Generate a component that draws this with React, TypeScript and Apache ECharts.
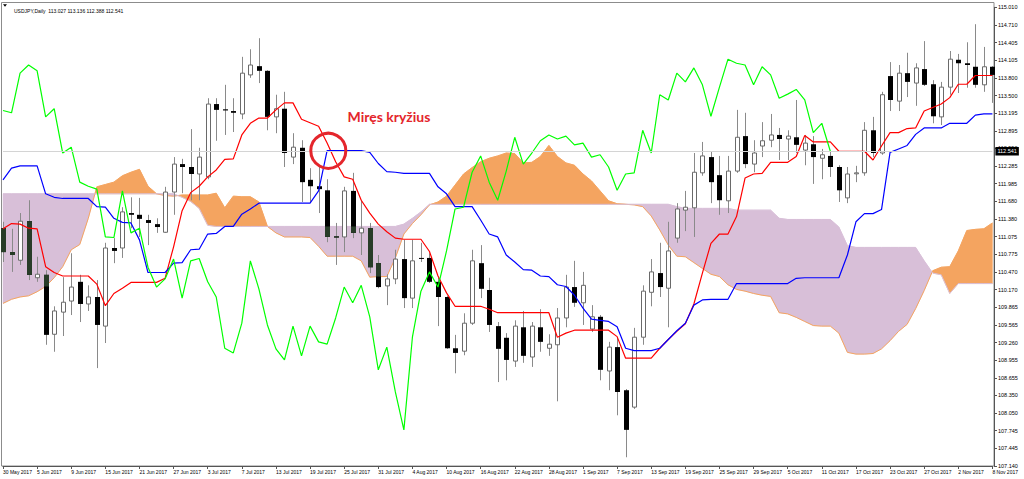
import React, { useEffect, useRef } from 'react';
import * as echarts from 'echarts';

const titleText = 'USDJPY,Daily  113.027 113.136 112.388 112.541';
const annotationText = 'Miręs kryžius';
const bidPrice = 112.541;

const dates = [
  '30 May 2017', '31 May 2017',
  '1 Jun 2017', '2 Jun 2017', '5 Jun 2017', '6 Jun 2017', '7 Jun 2017', '8 Jun 2017', '9 Jun 2017', '12 Jun 2017', '13 Jun 2017', '14 Jun 2017', '15 Jun 2017', '16 Jun 2017', '19 Jun 2017', '20 Jun 2017', '21 Jun 2017', '22 Jun 2017', '23 Jun 2017', '26 Jun 2017', '27 Jun 2017', '28 Jun 2017', '29 Jun 2017', '30 Jun 2017',
  '3 Jul 2017', '4 Jul 2017', '5 Jul 2017', '6 Jul 2017', '7 Jul 2017', '10 Jul 2017', '11 Jul 2017', '12 Jul 2017', '13 Jul 2017', '14 Jul 2017', '17 Jul 2017', '18 Jul 2017', '19 Jul 2017', '20 Jul 2017', '21 Jul 2017', '24 Jul 2017', '25 Jul 2017', '26 Jul 2017', '27 Jul 2017', '28 Jul 2017', '31 Jul 2017',
  '1 Aug 2017', '2 Aug 2017', '3 Aug 2017', '4 Aug 2017', '7 Aug 2017', '8 Aug 2017', '9 Aug 2017', '10 Aug 2017', '11 Aug 2017', '14 Aug 2017', '15 Aug 2017', '16 Aug 2017', '17 Aug 2017', '18 Aug 2017', '21 Aug 2017', '22 Aug 2017', '23 Aug 2017', '24 Aug 2017', '25 Aug 2017', '28 Aug 2017', '29 Aug 2017', '30 Aug 2017', '31 Aug 2017',
  '1 Sep 2017', '4 Sep 2017', '5 Sep 2017', '6 Sep 2017', '7 Sep 2017', '8 Sep 2017', '11 Sep 2017', '12 Sep 2017', '13 Sep 2017', '14 Sep 2017', '15 Sep 2017', '18 Sep 2017', '19 Sep 2017', '20 Sep 2017', '21 Sep 2017', '22 Sep 2017', '25 Sep 2017', '26 Sep 2017', '27 Sep 2017', '28 Sep 2017', '29 Sep 2017',
  '2 Oct 2017', '3 Oct 2017', '4 Oct 2017', '5 Oct 2017', '6 Oct 2017', '9 Oct 2017', '10 Oct 2017', '11 Oct 2017', '12 Oct 2017', '13 Oct 2017', '16 Oct 2017', '17 Oct 2017', '18 Oct 2017', '19 Oct 2017', '20 Oct 2017', '23 Oct 2017', '24 Oct 2017', '25 Oct 2017', '26 Oct 2017', '27 Oct 2017', '30 Oct 2017', '31 Oct 2017',
  '1 Nov 2017', '2 Nov 2017', '3 Nov 2017', '6 Nov 2017', '7 Nov 2017', '8 Nov 2017',
];

const open = [
  111.22, 110.81, 110.67, 111.34, 110.37, 110.42, 109.40, 109.78, 109.97, 110.30,
  109.92, 110.04, 109.54, 110.88, 110.88, 111.48, 111.45, 111.36, 111.29, 111.15,
  111.84, 112.32, 112.27, 112.15, 112.10, 113.35, 113.26, 113.23, 113.18, 113.85,
  114.00, 113.92, 113.13, 113.27, 112.44, 112.60, 112.05, 111.94, 111.87, 111.08,
  111.07, 111.86, 111.14, 111.22, 110.62, 110.23, 110.35, 110.69, 110.02, 110.71,
  110.71, 110.30, 110.04, 109.16, 109.11, 109.59, 110.62, 110.16, 109.54, 109.34,
  108.94, 109.52, 109.01, 109.52, 109.16, 109.22, 109.68, 110.21, 109.94, 109.49,
  109.70, 108.77, 109.18, 108.44, 108.15, 109.35, 110.12, 110.45, 110.19, 111.05,
  111.53, 111.57, 112.17, 112.44, 112.13, 111.69, 112.20, 112.80, 112.32, 112.63,
  112.73, 112.82, 112.75, 112.78, 112.56, 112.66, 112.42, 112.46, 112.27, 111.74,
  112.16, 112.17, 112.90, 112.51, 113.83, 113.40, 113.88, 113.71, 113.95, 113.69,
  113.13, 113.64, 114.11, 114.05, 113.99, 113.68, 113.99,
];

const close = [
  110.81, 110.76, 111.34, 110.42, 110.43, 109.39, 109.80, 109.95, 110.21, 109.92,
  110.04, 109.56, 110.88, 110.83, 111.50, 111.45, 111.38, 111.31, 111.24, 111.84,
  112.32, 112.27, 112.15, 112.44, 113.35, 113.25, 113.24, 113.20, 113.88, 114.02,
  113.92, 113.13, 113.27, 112.51, 112.61, 112.01, 111.94, 111.89, 111.07, 111.06,
  111.86, 111.14, 111.22, 110.55, 110.21, 110.35, 110.69, 110.02, 110.66, 110.70,
  110.30, 110.04, 109.16, 109.08, 109.59, 110.66, 110.18, 109.56, 109.15, 108.96,
  109.54, 109.03, 109.54, 109.27, 109.23, 109.68, 110.21, 109.94, 110.24, 109.70,
  108.79, 109.18, 108.41, 107.76, 109.35, 110.14, 110.47, 110.21, 110.83, 111.55,
  111.58, 112.18, 112.46, 112.01, 111.70, 112.20, 112.78, 112.32, 112.51, 112.72,
  112.82, 112.75, 112.80, 112.65, 112.68, 112.44, 112.48, 112.27, 111.87, 112.15,
  112.17, 112.90, 112.51, 113.51, 113.42, 113.88, 113.73, 113.97, 113.68, 113.14,
  113.64, 114.12, 114.05, 114.02, 113.68, 113.99, 113.85,
];

const low = [
  110.64, 110.47, 110.59, 110.33, 110.30, 109.22, 109.10, 109.37, 109.73, 109.61,
  109.80, 108.82, 109.25, 110.62, 110.71, 111.22, 111.07, 110.93, 111.14, 111.14,
  111.45, 111.82, 111.70, 111.70, 112.06, 112.72, 112.82, 112.87, 113.09, 113.80,
  113.71, 112.90, 112.85, 112.27, 112.32, 111.67, 111.67, 111.48, 110.98, 110.59,
  110.81, 111.05, 110.76, 110.45, 110.19, 109.90, 110.26, 109.85, 109.85, 110.64,
  110.28, 109.54, 109.15, 108.73, 109.04, 109.56, 110.02, 109.44, 108.58, 108.61,
  108.84, 108.91, 108.84, 109.10, 109.03, 108.25, 109.52, 109.87, 109.56, 109.44,
  108.61, 108.44, 108.01, 107.29, 108.12, 109.22, 109.88, 110.04, 109.52, 110.97,
  111.17, 111.07, 112.12, 111.65, 111.45, 111.48, 112.17, 112.25, 112.18, 112.44,
  112.61, 112.39, 112.39, 112.51, 112.30, 111.98, 112.06, 112.10, 111.67, 111.65,
  112.01, 112.12, 112.44, 112.48, 113.23, 113.23, 113.47, 113.32, 113.66, 113.02,
  112.99, 113.51, 113.54, 113.63, 113.63, 113.56, 113.37,
];

const high = [
  111.33, 111.21, 111.48, 111.70, 110.73, 110.50, 109.88, 110.38, 110.79, 110.42,
  110.24, 110.33, 110.97, 111.05, 111.58, 111.75, 111.74, 111.45, 111.39, 111.93,
  112.44, 112.41, 112.92, 112.60, 113.45, 113.45, 113.68, 113.45, 114.16, 114.29,
  114.48, 113.93, 113.51, 113.56, 112.85, 112.73, 112.25, 112.27, 112.06, 111.31,
  111.93, 112.17, 111.70, 111.31, 110.76, 110.43, 110.85, 111.02, 111.02, 110.97,
  110.79, 110.37, 110.06, 109.39, 109.76, 110.85, 110.93, 110.37, 109.61, 109.42,
  109.64, 109.80, 109.61, 109.83, 109.40, 109.85, 110.42, 110.66, 110.47, 109.90,
  109.73, 109.27, 109.35, 108.46, 109.51, 110.24, 110.69, 110.97, 111.33, 111.65,
  111.86, 112.51, 112.70, 112.53, 112.46, 112.46, 113.25, 113.20, 112.73, 113.04,
  113.18, 112.94, 112.90, 113.42, 112.82, 112.80, 112.58, 112.54, 112.30, 112.27,
  112.29, 113.04, 113.13, 113.56, 114.07, 114.02, 114.23, 114.05, 114.43, 113.76,
  113.73, 114.26, 114.21, 114.41, 114.72, 114.33, 114.00,
];

const tenkan = [
  111.21, 111.30, 111.29, 111.22, 111.21, 110.56, 110.46, 110.40, 110.40, 110.40,
  110.40, 110.26, 109.89, 110.10, 110.19, 110.29, 110.29, 110.29, 110.29, 110.36,
  110.90, 111.52, 111.83, 111.94, 112.10, 112.22, 112.40, 112.41, 112.82, 113.02,
  113.11, 113.11, 113.25, 113.37, 113.37, 113.09, 113.03, 112.97, 112.68, 112.36,
  112.10, 112.06, 111.70, 111.48, 111.29, 111.16, 111.05, 111.03, 111.03, 111.03,
  110.82, 110.40, 110.11, 109.88, 109.88, 109.88, 109.88, 109.83, 109.77, 109.77,
  109.77, 109.77, 109.77, 109.77, 109.77, 109.35, 109.42, 109.47, 109.47, 109.47,
  109.47, 109.47, 109.36, 108.99, 108.99, 108.99, 108.99, 109.16, 109.31, 109.45,
  109.58, 109.92, 110.45, 110.96, 111.12, 111.12, 111.42, 112.08, 112.15, 112.16,
  112.35, 112.35, 112.35, 112.45, 112.81, 112.70, 112.70, 112.70, 112.54, 112.54,
  112.54, 112.54, 112.39, 112.63, 112.86, 112.86, 112.93, 112.94, 113.23, 113.29,
  113.35, 113.46, 113.69, 113.69, 113.84, 113.84, 113.84,
];

const kijun = [
  112.05, 112.25, 112.29, 112.29, 112.29, 111.81, 111.75, 111.73, 111.73, 111.73,
  111.73, 111.59, 111.58, 111.39, 111.32, 111.31, 111.02, 110.46, 110.46, 110.46,
  110.62, 110.63, 110.85, 110.86, 111.12, 111.13, 111.25, 111.25, 111.46, 111.55,
  111.65, 111.65, 111.65, 111.65, 111.65, 111.65, 111.65, 111.86, 112.55, 112.55,
  112.55, 112.55, 112.55, 112.52, 112.33, 112.19, 112.18, 112.16, 112.16, 112.16,
  112.16, 111.93, 111.81, 111.59, 111.59, 111.59, 111.36, 111.12, 111.07, 110.76,
  110.64, 110.51, 110.50, 110.40, 110.39, 110.25, 110.22, 110.07, 109.85, 109.66,
  109.64, 109.62, 109.53, 109.16, 109.12, 109.12, 109.12, 109.16, 109.31, 109.46,
  109.59, 109.90, 109.99, 110.00, 110.00, 110.00, 110.27, 110.27, 110.27, 110.27,
  110.27, 110.27, 110.27, 110.36, 110.37, 110.37, 110.37, 110.37, 110.37, 110.76,
  111.33, 111.47, 111.47, 111.54, 112.52, 112.58, 112.64, 112.83, 112.94, 112.94,
  112.94, 113.02, 113.02, 113.02, 113.16, 113.18, 113.18,
];

const chikou = [
  113.24, 113.20, 113.88, 114.02, 113.92, 113.13, 113.27, 112.51, 112.61, 112.01,
  111.94, 111.89, 111.07, 111.06, 111.86, 111.14, 111.22, 110.55, 110.21, 110.35,
  110.69, 110.02, 110.66, 110.70, 110.30, 110.04, 109.16, 109.08, 109.59, 110.66,
  110.18, 109.56, 109.15, 108.96, 109.54, 109.03, 109.54, 109.27, 109.23, 109.68,
  110.21, 109.94, 110.24, 109.70, 108.79, 109.18, 108.41, 107.76, 109.35, 110.14,
  110.47, 110.21, 110.83, 111.55, 111.58, 112.18, 112.46, 112.01, 111.70, 112.20,
  112.78, 112.32, 112.51, 112.72, 112.82, 112.75, 112.80, 112.65, 112.68, 112.44,
  112.48, 112.27, 111.87, 112.15, 112.17, 112.90, 112.51, 113.51, 113.42, 113.88,
  113.73, 113.97, 113.68, 113.14, 113.64, 114.12, 114.05, 114.02, 113.68, 113.99,
  113.85, 113.45, 113.52, 113.60, 113.42, 112.86, 113.02, 112.541,
];

const senkouA = [
  109.93, 110.00, 110.04, 110.06, 110.13, 110.22, 110.37, 110.56, 110.85, 110.94,
  111.39, 111.93, 111.97, 112.01, 112.12, 112.18, 112.23, 111.94, 111.81, 111.78,
  111.77, 111.79, 111.79, 111.79, 111.79, 111.82, 111.57, 111.77, 111.76, 111.76,
  111.67, 111.25, 111.14, 111.07, 111.07, 111.07, 111.06, 110.91, 110.74, 110.74,
  110.74, 110.74, 110.66, 110.38, 110.39, 110.39, 110.71, 111.12, 111.30, 111.45,
  111.62, 111.67, 111.77, 111.96, 112.15, 112.26, 112.36, 112.42, 112.46, 112.51,
  112.50, 112.34, 112.35, 112.45, 112.64, 112.45, 112.34, 112.30, 112.15, 112.03,
  111.86, 111.69, 111.64, 111.63, 111.62, 111.59, 111.43, 111.19, 110.93, 110.74,
  110.73, 110.63, 110.53, 110.43, 110.39, 110.25, 110.17, 110.14, 110.10, 110.07,
  110.05, 109.77, 109.75, 109.69, 109.62, 109.55, 109.54, 109.54, 109.42, 109.09,
  109.06, 109.06, 109.07, 109.15, 109.29, 109.45, 109.57, 109.84, 110.15, 110.49,
  110.55, 110.56, 110.83, 111.18, 111.20, 111.21, 111.31,
];

const senkouB = [
  111.81, 111.81, 111.81, 111.81, 111.81, 111.81, 111.81, 111.81, 111.81, 111.81,
  111.81, 111.81, 111.81, 111.81, 111.81, 111.81, 111.81, 111.81, 111.81, 111.81,
  111.81, 111.75, 111.68, 111.56, 111.27, 111.25, 111.25, 111.25, 111.25, 111.25,
  111.25, 111.25, 111.25, 111.25, 111.25, 111.25, 111.25, 111.25, 111.25, 111.25,
  111.25, 111.25, 111.25, 111.25, 111.25, 111.25, 111.25, 111.29, 111.39, 111.50,
  111.63, 111.63, 111.63, 111.63, 111.63, 111.63, 111.63, 111.63, 111.63, 111.63,
  111.63, 111.63, 111.63, 111.63, 111.63, 111.63, 111.63, 111.63, 111.63, 111.63,
  111.63, 111.63, 111.63, 111.63, 111.63, 111.63, 111.63, 111.63, 111.63, 111.59,
  111.56, 111.56, 111.56, 111.56, 111.56, 111.56, 111.53, 111.53, 111.53, 111.53,
  111.53, 111.39, 111.37, 111.37, 111.37, 111.37, 111.37, 111.37, 111.24, 110.92,
  110.89, 110.89, 110.89, 110.89, 110.89, 110.89, 110.89, 110.89, 110.66, 110.45,
  110.42, 110.10, 110.27, 110.27, 110.27, 110.27, 110.27,
];

const yLabels = [
  '107.140', '107.445', '107.745', '108.050', '108.350', '108.655', '108.955', '109.260', '109.565',
  '109.865', '110.170', '110.470', '110.775', '111.075', '111.380', '111.680', '111.985', '112.285',
  '112.590', '112.895', '113.195', '113.500', '113.800', '114.105', '114.405', '114.710', '115.010',
];

const cloudUp = '#F4A460';
const cloudDown = '#D8BFD8';
const bodyInCloud = '#283c28';

export default function App() {
  const ref = useRef<HTMLDivElement>(null);

  useEffect(() => {
    document.body.style.margin = '0';
    const el = ref.current;
    if (!el) return;
    const chart = echarts.init(el, null, { renderer: 'svg' });
    const n = dates.length;
    const yMin = parseFloat(yLabels[0]);
    const yMax = parseFloat(yLabels[yLabels.length - 1]);
    const yStep = (yMax - yMin) / (yLabels.length - 1);

    const candleData = dates.map((_, i) => [i, open[i], close[i], low[i], high[i]]);
    const chikouData = dates.map((_, i) => (i < chikou.length ? chikou[i] : null));

    // whole Kumo drawn as one polygon per coloured run (no seams between bars)
    const renderCloud = (_params: any, api: any) => {
      const pts = dates.map((_, i) => ({
        a: api.coord([i, senkouA[i]]) as number[],
        b: api.coord([i, senkouB[i]]) as number[],
        d: senkouA[i] - senkouB[i],
      }));
      const children: any[] = [];
      let curA: number[][] = [pts[0].a];
      let curB: number[][] = [pts[0].b];
      let curD = pts[0].d;
      const flush = () => {
        if (curA.length > 1) {
          const c = curD > 0 ? cloudUp : cloudDown;
          children.push({
            type: 'polygon',
            shape: { points: [...curA, ...curB.slice().reverse()] },
            style: { fill: c, stroke: c, lineWidth: 0.5 },
          });
        }
      };
      for (let i = 1; i < n; i++) {
        const p = pts[i];
        const q = pts[i - 1];
        if (q.d * p.d < 0) {
          const t = q.d / (q.d - p.d);
          const X = [q.a[0] + t * (p.a[0] - q.a[0]), q.a[1] + t * (p.a[1] - q.a[1])];
          curA.push(X);
          curB.push(X);
          flush();
          curA = [X, p.a];
          curB = [X, p.b];
          curD = p.d;
        } else {
          curA.push(p.a);
          curB.push(p.b);
          if (curD === 0) curD = p.d;
          if (p.d === 0 && i < n - 1) {
            flush();
            curA = [p.a];
            curB = [p.b];
            curD = 0;
          }
        }
      }
      flush();
      return { type: 'group', children };
    };

    const renderCandle = (_params: any, api: any) => {
      const i = api.value(0) as number;
      const o = api.value(1) as number;
      const c = api.value(2) as number;
      const l = api.value(3) as number;
      const h = api.value(4) as number;
      const pO = api.coord([i, o]);
      const pC = api.coord([i, c]);
      const pL = api.coord([i, l]);
      const pH = api.coord([i, h]);
      const cx = Math.round(pO[0]);
      const bull = c >= o;
      const top = Math.min(pO[1], pC[1]);
      let bot = Math.max(pO[1], pC[1]);
      if (bot - top < 1) bot = top + 1;
      const children: any[] = [
        {
          type: 'line',
          shape: { x1: cx + 0.5, y1: pH[1], x2: cx + 0.5, y2: pL[1] },
          style: { stroke: '#8a8a8a', lineWidth: 1 },
        },
      ];
      if (bull) {
        children.push({
          type: 'rect',
          shape: { x: cx - 1.5, y: top, width: 4, height: bot - top },
          style: { fill: '#ffffff', stroke: '#6a6a6a', lineWidth: 1 },
        });
      } else {
        children.push({
          type: 'rect',
          shape: { x: cx - 2, y: top, width: 5, height: bot - top },
          style: { fill: '#000000' },
        });
        if (senkouB[i] > senkouA[i]) {
          const hi = Math.min(o, senkouB[i]);
          const lo = Math.max(c, senkouA[i]);
          if (hi > lo) {
            const y1 = api.coord([i, hi])[1];
            const y2 = api.coord([i, lo])[1];
            children.push({
              type: 'rect',
              shape: { x: cx - 2, y: y1, width: 5, height: y2 - y1 },
              style: { fill: bodyInCloud },
            });
          }
        }
      }
      return { type: 'group', children };
    };

    chart.setOption({
      animation: false,
      backgroundColor: '#ffffff',
      title: {
        text: titleText,
        left: 9,
        top: 3,
        textStyle: { fontSize: 5, fontWeight: 'normal', color: '#000', fontFamily: 'Liberation Sans' },
      },
      grid: { left: 1.8, top: 7.3, right: 31.6, bottom: 13 },
      xAxis: {
        type: 'category',
        data: dates,
        boundaryGap: false,
        axisLine: { show: true, lineStyle: { color: '#555', width: 1 } },
        axisTick: { show: true, interval: 3, length: 3, lineStyle: { color: '#555' } },
        axisLabel: {
          interval: 3,
          align: 'left',
          fontSize: 5,
          color: '#000',
          margin: 3,
          fontFamily: 'Liberation Sans',
        },
        splitLine: { show: false },
      },
      yAxis: {
        type: 'value',
        position: 'right',
        min: yMin,
        max: yMax,
        interval: yStep,
        offset: 1.6,
        scale: true,
        axisLine: { show: true, lineStyle: { color: '#555', width: 1 } },
        axisTick: { show: true, length: 3, lineStyle: { color: '#555' } },
        axisLabel: {
          fontSize: 5.5,
          color: '#000',
          margin: 4,
          fontFamily: 'Liberation Sans',
          showMinLabel: true,
          showMaxLabel: true,
          formatter: (v: number) => {
            const k = Math.round((v - yMin) / yStep);
            return yLabels[k] ?? '';
          },
        },
        splitLine: { show: false },
      },
      graphic: [
        {
          type: 'rect',
          z: 0,
          silent: true,
          shape: { x: 1.5, y: 2.5, width: 992.5, height: 463.5 },
          style: { fill: 'none', stroke: '#8c8c8c', lineWidth: 1 },
        },
        {
          type: 'polygon',
          silent: true,
          shape: { points: [[3, 4.3], [7, 4.3], [5, 6.8]] },
          style: { fill: '#000' },
        },
        {
          type: 'text',
          silent: true,
          z: 100,
          style: {
            x: 347.5,
            y: 116,
            text: annotationText,
            fill: '#e4262c',
            font: 'bold 14px Lato',
            verticalAlign: 'middle',
          },
        },
        {
          type: 'circle',
          silent: true,
          z: 100,
          shape: { cx: 328.3, cy: 150.8, r: 17.5 },
          style: { fill: 'none', stroke: '#e4262c', lineWidth: 3 },
        },
      ],
      series: [
        {
          type: 'custom',
          name: 'Kumo',
          z: 1,
          silent: true,
          renderItem: renderCloud,
          data: [[0, senkouA[0]]],
          encode: { x: 0, y: 1 },
        },
        {
          type: 'line',
          name: 'Senkou Span A',
          z: 2,
          silent: true,
          data: senkouA,
          symbol: 'none',
          showSymbol: false,
          lineStyle: { color: cloudUp, width: 1 },
        },
        {
          type: 'line',
          name: 'Senkou Span B',
          z: 2,
          silent: true,
          data: senkouB,
          symbol: 'none',
          showSymbol: false,
          lineStyle: { color: cloudDown, width: 1 },
          markLine: {
            silent: true,
            symbol: 'none',
            animation: false,
            lineStyle: { color: '#d4d4d4', type: 'solid', width: 1 },
            label: {
              show: true,
              position: 'end',
              distance: 3,
              formatter: () => bidPrice.toFixed(3),
              color: '#fff',
              backgroundColor: '#000',
              fontSize: 5.5,
              fontFamily: 'Liberation Sans',
              padding: [1.5, 2, 1, 2],
            },
            data: [{ yAxis: bidPrice }],
          },
        },
        {
          type: 'custom',
          name: 'USDJPY',
          z: 3,
          silent: true,
          clip: false,
          renderItem: renderCandle,
          data: candleData,
          encode: { x: 0, y: [1, 2, 3, 4] },
        },
        {
          type: 'line',
          name: 'Tenkan-sen',
          z: 4,
          silent: true,
          data: tenkan,
          symbol: 'none',
          showSymbol: false,
          lineStyle: { color: '#ff0000', width: 1.2 },
        },
        {
          type: 'line',
          name: 'Kijun-sen',
          z: 4,
          silent: true,
          data: kijun,
          symbol: 'none',
          showSymbol: false,
          lineStyle: { color: '#0000ff', width: 1.2 },
        },
        {
          type: 'line',
          name: 'Chikou Span',
          z: 4,
          silent: true,
          data: chikouData,
          symbol: 'none',
          showSymbol: false,
          lineStyle: { color: '#00ff00', width: 1.2 },
        },
      ],
    });

    return () => chart.dispose();
  }, []);

  return (
    <div
      ref={ref}
      style={{ position: 'absolute', left: 0, top: 0, width: 1024, height: 479 }}
    />
  );
}
